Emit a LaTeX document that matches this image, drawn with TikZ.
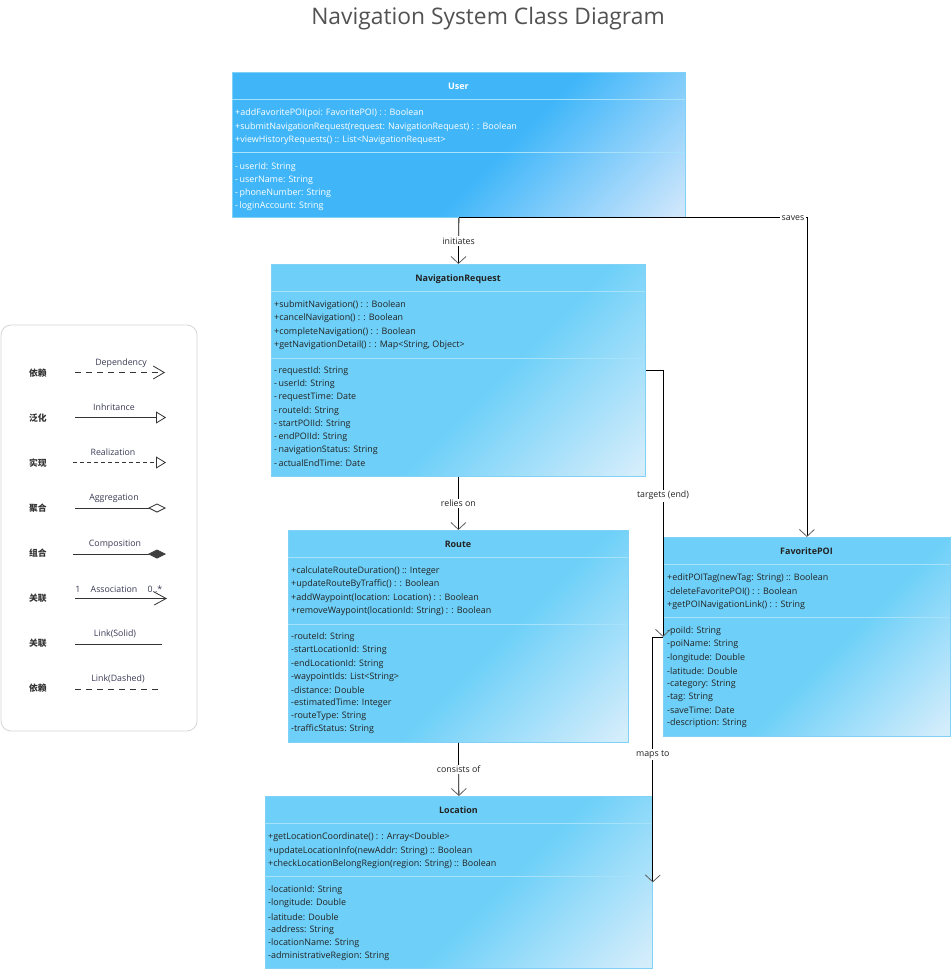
\documentclass[tikz,border=0pt]{standalone}
\usepackage{fontspec}
\setmainfont{Open Sans}
\newfontfamily\cjk{Noto Sans CJK SC}
\usetikzlibrary{arrows.meta,shapes.geometric}
\definecolor{ucA}{HTML}{40B6F9}
\definecolor{ucB}{HTML}{CDE6FC}
\definecolor{ccA}{HTML}{6ED0F8}
\definecolor{ccB}{HTML}{D4EDFB}
\definecolor{boxborder}{HTML}{7FD2F6}
\definecolor{divline}{HTML}{A6E2FA}
\definecolor{txtdark}{HTML}{222222}
\definecolor{arrowgray}{HTML}{606060}
\definecolor{legtxt}{HTML}{3A3A55}
\definecolor{leggray}{HTML}{D6D6D6}
\pgfdeclarehorizontalshading{userfill}{100bp}{color(0bp)=(ucA); color(56bp)=(ucA); color(84bp)=(ucB); color(100bp)=(ucB)}
\pgfdeclarehorizontalshading{classfill}{100bp}{color(0bp)=(ccA); color(56bp)=(ccA); color(84bp)=(ccB); color(100bp)=(ccB)}
\tikzset{
  classbox/.style={draw=boxborder, line width=0.8pt, inner sep=0pt, anchor=north west, shade, shading angle=-45},
  ubox/.style={classbox, shading=userfill},
  cbox/.style={classbox, shading=classfill},
  divider/.style={draw=divline, line width=0.8pt},
  mtext/.style={anchor=west, inner sep=0pt, font=\fontsize{8.95}{10}\selectfont, text=txtdark},
  utext/.style={mtext, text=white},
  htext/.style={inner sep=0pt, font=\fontsize{8.95}{10}\selectfont\bfseries, text=txtdark},
  conn/.style={draw=black, line width=0.8pt, -{Straight Barb[length=7pt,width=15pt,color=arrowgray,line width=0.8pt]}},
  clabel/.style={fill=white, inner sep=1.5pt, font=\fontsize{8.8}{10}\selectfont, text=txtdark},
  legline/.style={draw=black!80, line width=0.8pt},
  legtext/.style={inner sep=0pt, font=\fontsize{8.8}{10}\selectfont, text=legtxt},
  cjktext/.style={inner sep=0pt, font=\fontsize{8.8}{10}\cjk\bfseries, text=black!80},
}
\begin{document}
\begin{tikzpicture}[x=1pt,y=-1pt]
\useasboundingbox[fill=white] (0,0) rectangle (952,970);
\node[font=\fontsize{22.8}{26}\selectfont, text=black!68] (title) at (488,18.5) {Navigation System Class Diagram};

% ---------------- User
\node[ubox, minimum width=453pt, minimum height=145pt] (user) at (232,72) {};
\draw[divider] (232,99) -- (685,99);
\draw[divider] (232,152) -- (685,152);
\node[htext, text=white] (user-h) at (458.5,86) {User};
\foreach \t [count=\i] in {{+addFavoritePOI(poi: FavoritePOI) : : Boolean},{+submitNavigationRequest(request: NavigationRequest) : : Boolean},{+viewHistoryRequests() :: List<NavigationRequest>}}
  \node[utext] (user-m\i) at (235,{113.5+13.4*(\i-1)}) {\t};
\foreach \t [count=\i] in {{-\,userId: String},{-\,userName: String},{-\,phoneNumber: String},{-\,loginAccount: String}}
  \node[utext] (user-a\i) at (235,{167.5+13*(\i-1)}) {\t};

% ---------------- NavigationRequest
\node[cbox, minimum width=374pt, minimum height=212pt] (navreq) at (271,264) {};
\draw[divider] (271,291) -- (645,291);
\draw[divider] (271,358) -- (645,358);
\node[htext] (navreq-h) at (458,279.5) {NavigationRequest};
\foreach \t [count=\i] in {{+submitNavigation() : : Boolean},{+cancelNavigation() : : Boolean},{+completeNavigation() : : Boolean},{+getNavigationDetail() : : Map<String, Object>}}
  \node[mtext] (navreq-m\i) at (274,{305.5+13.1*(\i-1)}) {\t};
\foreach \t [count=\i] in {{-\,requestId: String},{-\,userId: String},{-\,requestTime: Date},{-\,routeId: String},{-\,startPOIId: String},{-\,endPOIId: String},{-\,navigationStatus: String},{-\,actualEndTime: Date}}
  \node[mtext] (navreq-a\i) at (274,{371.5+13.1*(\i-1)}) {\t};

% ---------------- Route
\node[cbox, minimum width=340pt, minimum height=212pt] (route) at (288,530) {};
\draw[divider] (288,557) -- (628,557);
\draw[divider] (288,624) -- (628,624);
\node[htext] (route-h) at (458,544.5) {Route};
\foreach \t [count=\i] in {{+calculateRouteDuration() :: Integer},{+updateRouteByTraffic() : : Boolean},{+addWaypoint(location: Location) : : Boolean},{+removeWaypoint(locationId: String) : : Boolean}}
  \node[mtext] (route-m\i) at (291,{571.5+13.1*(\i-1)}) {\t};
\foreach \t [count=\i] in {{-routeId: String},{-startLocationId: String},{-endLocationId: String},{-waypointIds: List<String>},{-distance: Double},{-estimatedTime: Integer},{-routeType: String},{-trafficStatus: String}}
  \node[mtext] (route-a\i) at (291,{637.5+13.1*(\i-1)}) {\t};

% ---------------- Location
\node[cbox, minimum width=387pt, minimum height=172pt] (loc) at (265,796) {};
\draw[divider] (265,823) -- (652,823);
\draw[divider] (265,876) -- (652,876);
\node[htext] (loc-h) at (458.5,810.5) {Location};
\foreach \t [count=\i] in {{+getLocationCoordinate() : : Array<Double>},{+updateLocationInfo(newAddr: String) :: Boolean},{+checkLocationBelongRegion(region: String) :: Boolean}}
  \node[mtext] (loc-m\i) at (268,{837.5+13.2*(\i-1)}) {\t};
\foreach \t [count=\i] in {{-locationId: String},{-longitude: Double},{-latitude: Double},{-address: String},{-locationName: String},{-administrativeRegion: String}}
  \node[mtext] (loc-a\i) at (268,{890.5+13.1*(\i-1)}) {\t};

% ---------------- FavoritePOI
\node[cbox, minimum width=287pt, minimum height=199pt] (fav) at (663,537) {};
\draw[divider] (663,564) -- (950,564);
\draw[divider] (663,617) -- (950,617);
\node[htext] (fav-h) at (806.5,551.5) {FavoritePOI};
\foreach \t [count=\i] in {{+editPOITag(newTag: String) :: Boolean},{-deleteFavoritePOI() : : Boolean},{+getPOINavigationLink() : : String}}
  \node[mtext] (fav-m\i) at (667,{578.5+13.1*(\i-1)}) {\t};
\foreach \t [count=\i] in {{-poiId: String},{-poiName: String},{-longitude: Double},{-latitude: Double},{-category: String},{-tag: String},{-saveTime: Date},{-description: String}}
  \node[mtext] (fav-a\i) at (667,{631.5+13.1*(\i-1)}) {\t};

% ---------------- connectors
\draw[conn] (user.south) -- node[clabel] (lab-init) {initiates} (navreq.north);
\draw[conn] (user.south) -| node[clabel, pos=0.48] (lab-saves) {saves} (fav.north);
\draw[conn] (navreq.south) -- node[clabel] (lab-relies) {relies on} (route.north);
\draw[conn] (navreq.east) -| node[clabel, pos=0.735] (lab-targets) {targets (end)} (fav.west);
\draw[conn] (fav.west) -| node[clabel, pos=0.74] (lab-maps) {maps to} (loc.east);
\draw[conn] (route.south) -- node[clabel] (lab-consists) {consists of} (loc.north);

% ---------------- legend
\draw[leggray, line width=0.8pt, rounded corners=10pt] (1,325) rectangle (197,731);
\node[cjktext] (lg1) at (38,373) {依赖};
\node[cjktext] (lg2) at (38,418) {泛化};
\node[cjktext] (lg3) at (38,463) {实现};
\node[cjktext] (lg4) at (38,508) {聚合};
\node[cjktext] (lg5) at (38,553) {组合};
\node[cjktext] (lg6) at (38,598) {关联};
\node[cjktext] (lg7) at (38,643) {关联};
\node[cjktext] (lg8) at (38,688) {依赖};

\node[legtext] (lt1) at (121,363) {Dependency};
\node[legtext] (lt2) at (114,407) {Inhritance};
\node[legtext] (lt3) at (113,452) {Realization};
\node[legtext] (lt4) at (114,498) {Aggregation};
\node[legtext] (lt5) at (115,544) {Composition};
\node[legtext] (lt6a) at (78,589) {1};
\node[legtext] (lt6) at (114,589) {Association};
\node[legtext] (lt6b) at (155,589) {0..*};
\node[legtext] (lt7) at (115,634) {Link(Solid)};
\node[legtext] (lt8) at (118,679) {Link(Dashed)};

\coordinate (d1a) at (75,372.5); \coordinate (d1b) at (165,372.5);
\coordinate (d2a) at (75,417.5); \coordinate (d2b) at (166,417.5);
\coordinate (d3a) at (73,462.5); \coordinate (d3b) at (166,462.5);
\coordinate (d4a) at (75,508); \coordinate (d4b) at (166,508);
\coordinate (d5a) at (73,554); \coordinate (d5b) at (166,554);
\coordinate (d6a) at (75,598.5); \coordinate (d6b) at (167,598.5);
\coordinate (d7a) at (75,644); \coordinate (d7b) at (162,644);
\coordinate (d8a) at (75,689); \coordinate (d8b) at (162,689);
\draw[legline, dash pattern=on 6pt off 5pt, -{Straight Barb[length=11pt,width=13pt,line width=0.8pt]}] (d1a) -- (d1b);
\draw[legline, -{Triangle[open,length=10pt,width=12pt,line width=0.8pt]}] (d2a) -- (d2b);
\draw[legline, dash pattern=on 3.5pt off 3.5pt, -{Triangle[open,length=10pt,width=12pt,line width=0.8pt]}] (d3a) -- (d3b);
\draw[legline, -{Diamond[open,length=18pt,width=9pt,line width=0.8pt]}] (d4a) -- (d4b);
\draw[legline, -{Diamond[length=18pt,width=9pt,fill=black!75,color=black!75]}] (d5a) -- (d5b);
\draw[legline, -{Straight Barb[length=12pt,width=13pt,line width=0.8pt]}] (d6a) -- (d6b);
\draw[legline] (d7a) -- (d7b);
\draw[legline, dash pattern=on 6pt off 5pt] (d8a) -- (d8b);
\end{tikzpicture}
\end{document}
